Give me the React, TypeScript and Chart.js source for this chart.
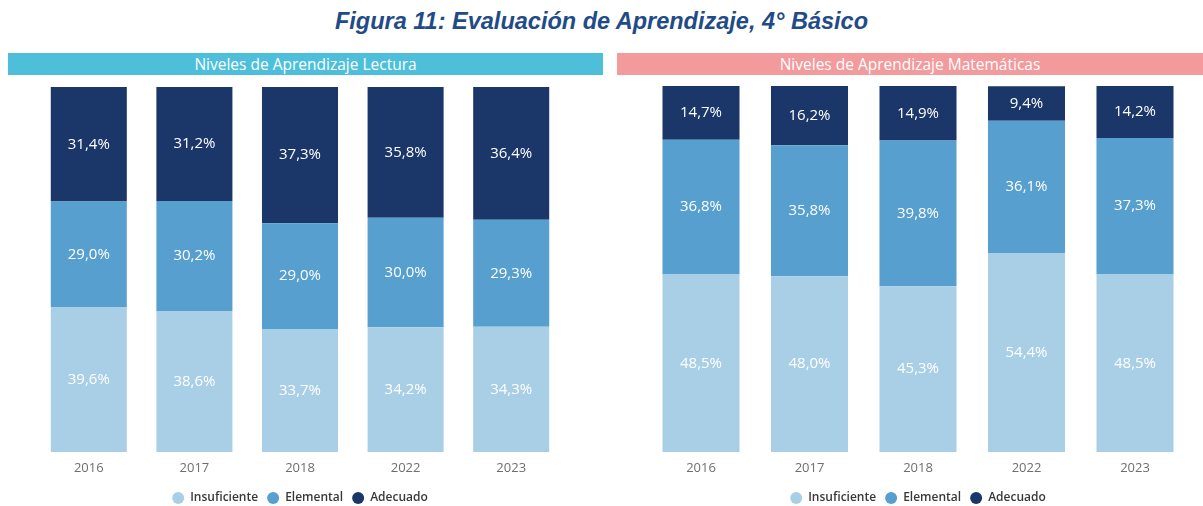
import React, { useEffect, useRef } from "react";
import { Chart, registerables } from "chart.js";

Chart.register(...registerables);

const years = ["2016", "2017", "2018", "2022", "2023"];
const seriesNames = ["Insuficiente", "Elemental", "Adecuado"];
const seriesColors = ["#A9CFE7", "#569FCF", "#1B3769"];

const lecturaInsuficiente = [39.6, 38.6, 33.7, 34.2, 34.3];
const lecturaElemental = [29.0, 30.2, 29.0, 30.0, 29.3];
const lecturaAdecuado = [31.4, 31.2, 37.3, 35.8, 36.4];

const mateInsuficiente = [48.5, 48.0, 45.3, 54.4, 48.5];
const mateElemental = [36.8, 35.8, 39.8, 36.1, 37.3];
const mateAdecuado = [14.7, 16.2, 14.9, 9.4, 14.2];

const FONT = "'Open Sans', 'Noto Sans', sans-serif";

const labelPlugin = {
  id: "segLabels",
  afterDatasetsDraw(chart: any) {
    const ctx = chart.ctx;
    ctx.save();
    ctx.font = `15px ${FONT}`;
    ctx.fillStyle = "#FFFFFF";
    ctx.textAlign = "center";
    ctx.textBaseline = "middle";
    chart.data.datasets.forEach((ds: any, di: number) => {
      const meta = chart.getDatasetMeta(di);
      meta.data.forEach((el: any, i: number) => {
        const { x, y, base } = el.getProps(["x", "y", "base"], true);
        const v = ds.data[i] as number;
        ctx.fillText(v.toFixed(1).replace(".", ",") + "%", x, (y + base) / 2);
      });
    });
    ctx.restore();
  },
};

function StackedChart(props: {
  ins: number[];
  ele: number[];
  ade: number[];
  padX: number;
  padTop: number;
  barPct: number;
  areaWidth: number;
}) {
  const ref = useRef<HTMLCanvasElement>(null);
  useEffect(() => {
    if (!ref.current) return;
    const values = [props.ins, props.ele, props.ade];
    const chart = new Chart(ref.current, {
      type: "bar",
      data: {
        labels: years,
        datasets: seriesNames.map((name, i) => ({
          label: name,
          data: values[i],
          backgroundColor: seriesColors[i],
          borderWidth: 0,
          categoryPercentage: 1,
          barPercentage: props.barPct,
        })),
      },
      options: {
        animation: false,
        responsive: false,
        maintainAspectRatio: false,
        layout: {
          padding: { left: props.padX, right: props.padX, top: props.padTop, bottom: 0 },
        },
        scales: {
          x: {
            stacked: true,
            grid: { display: false, drawTicks: false },
            border: { display: false },
            ticks: {
              color: "#6E6E6E",
              font: { family: FONT, size: 13 },
              padding: 8,
            },
            afterFit: (scale: any) => {
              scale.height = 31;
            },
          },
          y: {
            stacked: true,
            display: false,
            min: 0,
            max: 100,
          },
        },
        plugins: {
          legend: {
            display: true,
            position: "bottom",
            labels: {
              usePointStyle: true,
              pointStyle: "circle",
              pointStyleWidth: 12,
              boxHeight: 8.5,
              padding: 9,
              color: "#383838",
              font: { family: FONT, size: 12, weight: "600" },
            },
          },
          tooltip: { enabled: false },
        },
      },
      plugins: [labelPlugin],
    });
    return () => chart.destroy();
  }, []);
  return <canvas ref={ref} width={props.padX * 2 + props.areaWidth} height={436} />;
}

export default function App() {
  return (
    <div
      style={{
        position: "fixed",
        left: 0,
        top: 0,
        width: 1203,
        height: 506,
        overflow: "hidden",
        background: "#FFFFFF",
      }}
    >
      <div
        style={{
          position: "absolute",
          left: 0,
          top: 6,
          width: 1203,
          textAlign: "center",
          fontFamily: "'Liberation Sans', Arial, sans-serif",
          fontWeight: "bold",
          fontStyle: "italic",
          fontSize: 23.5,
          color: "#1F4C88",
          lineHeight: "30px",
        }}
      >
        Figura 11: Evaluación de Aprendizaje, 4° Básico
      </div>
      <div
        style={{
          position: "absolute",
          left: 8,
          top: 53,
          width: 595,
          height: 22,
          background: "#4EBFDB",
          color: "#FFFFFF",
          fontFamily: FONT,
          fontSize: 15.5,
          lineHeight: "22px",
          textAlign: "center",
        }}
      >
        Niveles de Aprendizaje Lectura
      </div>
      <div
        style={{
          position: "absolute",
          left: 617,
          top: 53,
          width: 586,
          height: 22,
          background: "#F29A9C",
          color: "#FFFFFF",
          fontFamily: FONT,
          fontSize: 15.5,
          lineHeight: "22px",
          textAlign: "center",
        }}
      >
        Niveles de Aprendizaje Matemáticas
      </div>
      <div style={{ position: "absolute", left: 0, top: 78 }}>
        <StackedChart
          ins={lecturaInsuficiente}
          ele={lecturaElemental}
          ade={lecturaAdecuado}
          padX={36}
          padTop={9}
          barPct={0.72}
          areaWidth={528}
        />
      </div>
      <div style={{ position: "absolute", left: 628, top: 78 }}>
        <StackedChart
          ins={mateInsuficiente}
          ele={mateElemental}
          ade={mateAdecuado}
          padX={18.75}
          padTop={8}
          barPct={0.71}
          areaWidth={542.5}
        />
      </div>
    </div>
  );
}
